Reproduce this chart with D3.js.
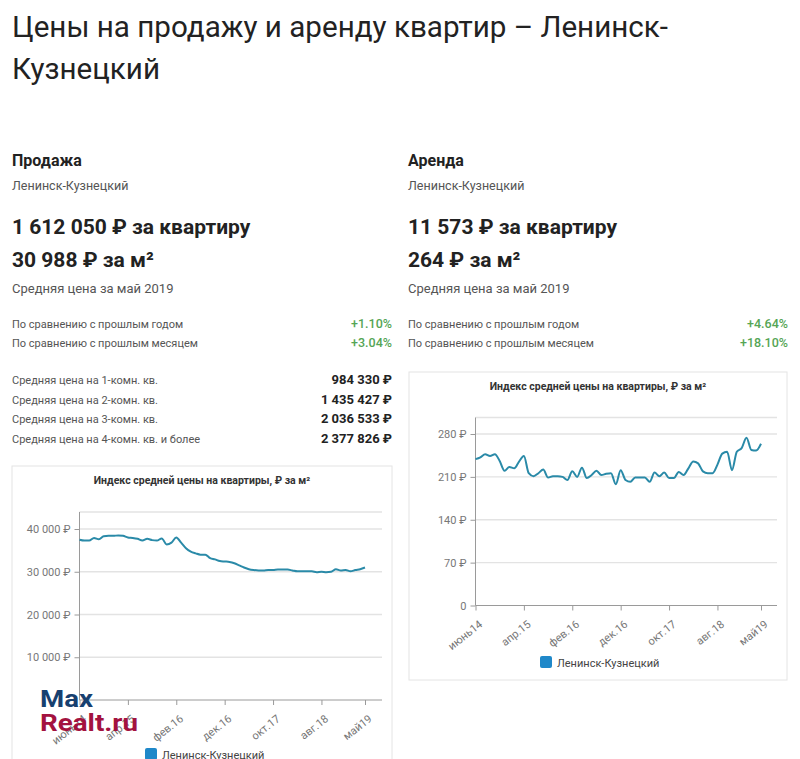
<!DOCTYPE html>
<html><head><meta charset="utf-8">
<script src="https://cdn.jsdelivr.net/npm/d3@7"></script>
<style>
html,body{margin:0;padding:0;background:#fff;}
svg{display:block;font-family:Roboto,"Noto Sans",sans-serif;}
</style></head>
<body>
<svg id="c" width="800" height="759"></svg>
<script>
// ---- data ----
const months = ["июнь14","июль14","авг.14","сент.14","окт.14","нояб.14","дек.14","янв.15","фев.15","март15",
"апр.15","май15","июнь15","июль15","авг.15","сент.15","окт.15","нояб.15","дек.15","янв.16",
"фев.16","март16","апр.16","май16","июнь16","июль16","авг.16","сент.16","окт.16","нояб.16",
"дек.16","янв.17","фев.17","март17","апр.17","май17","июнь17","июль17","авг.17","сент.17",
"окт.17","нояб.17","дек.17","янв.18","фев.18","март18","апр.18","май18","июнь18","июль18",
"авг.18","сент.18","окт.18","нояб.18","дек.18","янв.19","фев.19","март19","апр.19","май19"];
const xTickLabels = ["июнь14","апр.15","фев.16","дек.16","окт.17","авг.18","май19"];
const saleValues = [37500,37300,37300,37900,37600,38300,38400,38400,38500,38400,
38000,37900,37700,37300,37700,37400,37300,37800,36400,36800,
38000,36800,35500,34700,34300,34000,34000,33200,32900,32500,
32400,32300,32000,31500,31000,30600,30400,30300,30300,30400,
30400,30500,30500,30500,30300,30100,30100,30100,30100,29900,
30000,29900,30000,30600,30300,30400,30100,30400,30600,30988];
const rentValues = [239,242,247,244,247,236,220,226,224,235,
244,216,211,216,222,209,211,211,210,205,
219,210,225,208,213,220,213,215,216,198,
221,205,202,209,209,209,202,217,211,217,
208,208,218,213,224,235,232,219,216,216,
230,248,251,221,251,257,274,254,253,264];
const saleTicks = [10000,20000,30000,40000];
const rentTicks = [0,70,140,210,280];
const legendName = "Ленинск-Кузнецкий";
const chartTitle = "Индекс средней цены на квартиры, ₽ за м²";

const saleInfo = {head:"Продажа", city:"Ленинск-Кузнецкий", perFlat:"1 612 050 ₽ за квартиру", perM:"30 988 ₽ за м²", period:"Средняя цена за май 2019"};
const rentInfo = {head:"Аренда", city:"Ленинск-Кузнецкий", perFlat:"11 573 ₽ за квартиру", perM:"264 ₽ за м²", period:"Средняя цена за май 2019"};
const compareLabels = ["По сравнению с прошлым годом","По сравнению с прошлым месяцем"];
const saleCompare = ["+1.10%","+3.04%"];
const rentCompare = ["+4.64%","+18.10%"];
const roomLabels = ["Средняя цена на 1-комн. кв.","Средняя цена на 2-комн. кв.","Средняя цена на 3-комн. кв.","Средняя цена на 4-комн. кв. и более"];
const roomValues = ["984 330 ₽","1 435 427 ₽","2 036 533 ₽","2 377 826 ₽"];

const svg = d3.select("#c");
const fmt = v => (v===0 ? "0" : d3.format(",")(v).replace(/,/g," ") + " ₽");

// ---- page title ----
svg.append("text").attr("x",12).attr("y",37).attr("font-size",29).attr("fill","#222")
  .attr("textLength",656).attr("lengthAdjust","spacingAndGlyphs")
  .text("Цены на продажу и аренду квартир – Ленинск-");
svg.append("text").attr("x",12).attr("y",79).attr("font-size",29).attr("fill","#222")
  .attr("textLength",148).attr("lengthAdjust","spacingAndGlyphs")
  .text("Кузнецкий");

function infoBlock(x0, right, info, cmp, rooms){
  const g = svg.append("g");
  g.append("text").attr("x",x0).attr("y",166).attr("font-size",16).attr("font-weight",700).attr("fill","#222").text(info.head);
  g.append("text").attr("x",x0).attr("y",190).attr("font-size",12.5).attr("fill","#555").text(info.city);
  g.append("text").attr("x",x0).attr("y",234).attr("font-size",21).attr("font-weight",700).attr("fill","#222").text(info.perFlat);
  g.append("text").attr("x",x0).attr("y",267).attr("font-size",21).attr("font-weight",700).attr("fill","#222").text(info.perM);
  g.append("text").attr("x",x0).attr("y",293).attr("font-size",13).attr("fill","#555").text(info.period);
  compareLabels.forEach((l,i)=>{
    const y = 328 + i*19;
    g.append("text").attr("x",x0).attr("y",y).attr("font-size",11).attr("fill","#555").text(l);
    g.append("text").attr("x",right).attr("y",y).attr("text-anchor","end").attr("font-size",12.5).attr("font-weight",500).attr("fill","#55a555").text(cmp[i]);
  });
  if(rooms){
    roomLabels.forEach((l,i)=>{
      const y = 384 + i*19.5;
      g.append("text").attr("x",x0).attr("y",y).attr("font-size",11).attr("fill","#555").text(l);
      g.append("text").attr("x",right).attr("y",y).attr("text-anchor","end").attr("font-size",13).attr("font-weight",700).attr("fill","#222").text(rooms[i]);
    });
  }
}
infoBlock(12, 392, saleInfo, saleCompare, roomValues);
infoBlock(408, 788, rentInfo, rentCompare, null);

// ---- charts ----
function chart(opt){
  const g = svg.append("g");
  g.append("rect").attr("x",opt.card[0]).attr("y",opt.card[1]).attr("width",opt.card[2]).attr("height",opt.card[3])
    .attr("fill","#fff").attr("stroke","#e4e4e4").attr("stroke-width",1);
  g.append("text").attr("x",opt.card[0]+opt.card[2]/2).attr("y",opt.titleY).attr("text-anchor","middle")
    .attr("font-size",10.5).attr("font-weight",700).attr("fill","#333").text(chartTitle);
  const x = d3.scaleLinear().domain([0, months.length-1]).range([opt.left, opt.lastX]);
  const y = d3.scaleLinear().domain([0, opt.tickStep*4]).range([opt.bottom, opt.tick4Y]);
  const top = opt.bottom - 188;
  const gridVals = opt.ticks.filter(t=>t>0);
  g.selectAll(null).data(gridVals).join("line")
    .attr("x1",opt.left).attr("x2",opt.right).attr("y1",d=>y(d)).attr("y2",d=>y(d))
    .attr("stroke","#e3e3e3").attr("stroke-width",1.3);
  g.append("line").attr("x1",opt.left).attr("x2",opt.right).attr("y1",top).attr("y2",top).attr("stroke","#e3e3e3").attr("stroke-width",1.3);
  const ya = g.append("g").attr("transform",`translate(${opt.left},0)`)
    .call(d3.axisLeft(y).tickValues(opt.ticks).tickFormat(fmt).tickSize(5).tickSizeOuter(0));
  ya.select(".domain").attr("stroke","#9a9a9a").attr("d",`M0,${opt.bottom}V${top}`);
  ya.selectAll(".tick line").attr("stroke","#9a9a9a");
  ya.selectAll(".tick text").attr("font-size",11).attr("fill","#777").attr("font-family","Roboto,sans-serif").attr("dx",-1);
  const tickIdx = xTickLabels.map(l=>months.indexOf(l));
  const xa = g.append("g").attr("transform",`translate(0,${opt.bottom})`)
    .call(d3.axisBottom(x).tickValues(tickIdx).tickFormat(i=>months[i]).tickSize(5).tickSizeOuter(0));
  xa.select(".domain").attr("stroke","#9a9a9a").attr("d",`M${opt.left},0H${opt.right}`);
  xa.selectAll(".tick line").attr("stroke","#9a9a9a");
  xa.selectAll(".tick text").attr("font-size",11).attr("fill","#777").attr("font-family","Roboto,sans-serif")
    .attr("text-anchor","end").attr("dy","0.3em").attr("dx","-0.2em")
    .attr("transform","translate(2,10) rotate(-38)");
  const line = d3.line().x((d,i)=>x(i)).y(d=>y(d)).curve(d3.curveMonotoneX);
  g.append("path").datum(opt.values).attr("d",line).attr("fill","none").attr("stroke","#2a8aa8").attr("stroke-width",2);
  const lg = g.append("g");
  lg.append("rect").attr("x",opt.legend[0]).attr("y",opt.legend[1]-9).attr("width",12).attr("height",12).attr("rx",2).attr("fill","#1f88c9");
  lg.append("text").attr("x",opt.legend[0]+17).attr("y",opt.legend[1]+1.5).attr("font-size",11).attr("fill","#444").text(legendName);
}

chart({card:[12,466,380,300], titleY:484, left:79.5, right:382, lastX:365, bottom:700, tick4Y:529,
       tickStep:10000, ticks:saleTicks, values:saleValues, legend:[145,757]});
chart({card:[409,372,378,308], titleY:390, left:475.5, right:777, lastX:761, bottom:605.5, tick4Y:434,
       tickStep:70, ticks:rentTicks, values:rentValues, legend:[540,665]});

// ---- watermark ----
svg.append("text").attr("x",40).attr("y",707).attr("font-size",24).attr("font-weight",700).attr("fill","#17406f")
  .attr("font-family","Roboto,sans-serif").attr("textLength",53).attr("lengthAdjust","spacingAndGlyphs").text("Max");
svg.append("text").attr("x",40).attr("y",731).attr("font-size",24).attr("font-weight",700).attr("fill","#a3123f")
  .attr("font-family","Roboto,sans-serif").attr("textLength",98).attr("lengthAdjust","spacingAndGlyphs").text("Realt.ru");
</script>
</body></html>
